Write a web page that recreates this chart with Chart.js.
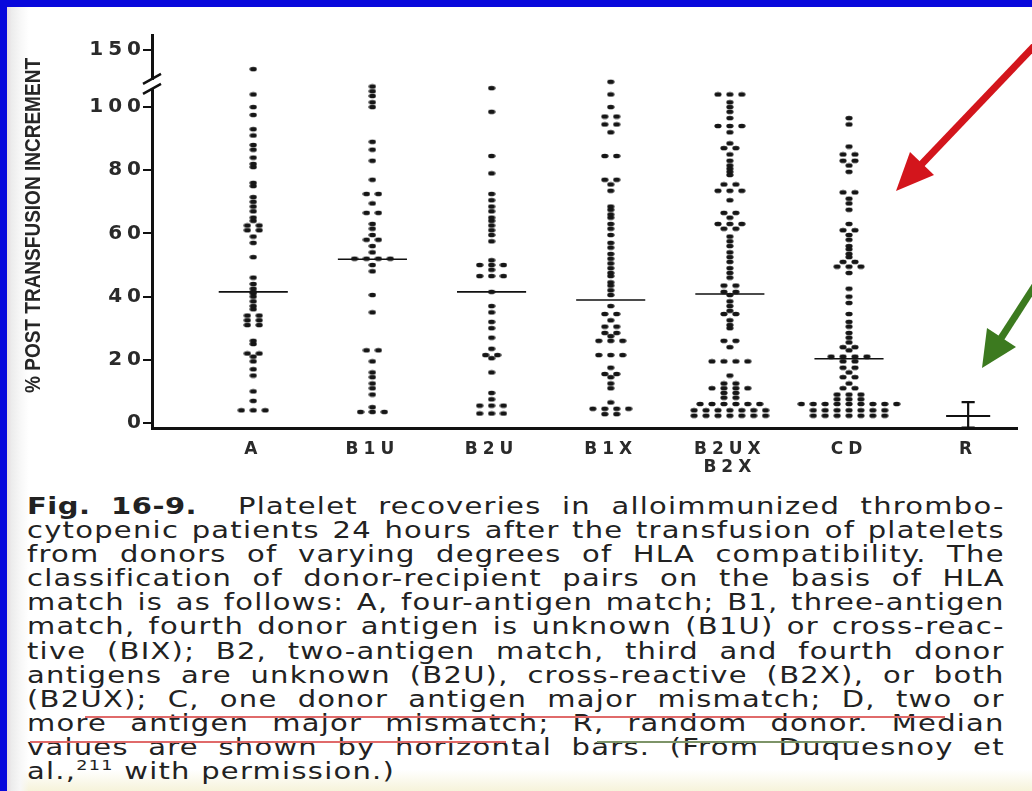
<!DOCTYPE html>
<html lang="en">
<head>
<meta charset="UTF-8">
<title>Fig. 16-9 Platelet recoveries</title>
<script src="https://cdn.jsdelivr.net/npm/chart.js@4/dist/chart.umd.min.js"></script>
<style>
  body { margin: 0; width: 1032px; height: 791px; position: relative; overflow: hidden; background: #fff; }
  .blue-top { position: absolute; left: 0; top: 0; width: 1032px; height: 7px; background: #0808dc; z-index: 5; }
  .blue-left { position: absolute; left: 0; top: 0; width: 7px; height: 791px; background: #0808dc; z-index: 5; }
  .edge { position: absolute; left: 7px; top: 7px; width: 22px; height: 784px; background: linear-gradient(to right, #e6d9df, #ececec 20%, #f7f7f7 60%, rgba(255,255,255,0)); z-index: 1; }
  .cream { position: absolute; left: 0; top: 770px; width: 1032px; height: 21px; background: linear-gradient(to bottom, rgba(255,255,255,0), #f6f3da); }
  #c { position: absolute; left: 0; top: 0; z-index: 2; }
  #arrows { position: absolute; left: 0; top: 0; z-index: 3; }
  /* printed caption is a wide geometric face: stretch horizontally to the column width */
  #caption { position: absolute; left: 27px; top: 494px; width: 776px; z-index: 2;
    transform: scaleX(1.26); transform-origin: 0 0;
    font-family: "DejaVu Sans", sans-serif; font-size: 23px; line-height: 24.1px; color: #222; letter-spacing: 1px; }
  #caption .ln { display: block; text-align: justify; text-align-last: justify; }
  #caption .last { text-align-last: left; }
  #caption b { font-weight: bold; letter-spacing: 0.4px; }
  #caption sup { font-size: 14px; line-height: 0; vertical-align: 9px; }
  .uline { position: absolute; height: 2px; z-index: 3; }
</style>
</head>
<body>
<div class="blue-top"></div>
<div class="blue-left"></div>
<div class="edge"></div>
<div class="cream"></div>

<canvas id="c" width="1032" height="490"></canvas>

<svg id="arrows" width="1032" height="490">
  <line x1="1040" y1="40" x2="916" y2="170" stroke="#d3151c" stroke-width="7"/>
  <polygon points="896,191 934,175 910,152" fill="#d3151c"/>
  <line x1="1045" y1="270" x2="996" y2="346" stroke="#3c7a1f" stroke-width="7"/>
  <polygon points="982,368 1016,347 987,328" fill="#3c7a1f"/>
</svg>

<div id="caption">
  <span class="ln"><b>Fig. 16-9.</b>&nbsp; Platelet recoveries in alloimmunized thrombo-</span>
  <span class="ln">cytopenic patients 24 hours after the transfusion of platelets</span>
  <span class="ln">from donors of varying degrees of HLA compatibility. The</span>
  <span class="ln">classification of donor-recipient pairs on the basis of HLA</span>
  <span class="ln">match is as follows: A, four-antigen match; B1, three-antigen</span>
  <span class="ln">match, fourth donor antigen is unknown (B1U) or cross-reac-</span>
  <span class="ln">tive (BIX); B2, two-antigen match, third and fourth donor</span>
  <span class="ln">antigens are unknown (B2U), cross-reactive (B2X), or both</span>
  <span class="ln">(B2UX); C, one donor antigen major mismatch; D, two or</span>
  <span class="ln">more antigen major mismatch; R, random donor. Median</span>
  <span class="ln">values are shown by horizontal bars. (From Duquesnoy et</span>
  <span class="ln last">al.,<sup>211</sup> with permission.)</span>
</div>
<div class="uline" style="left:85px; top:716px; width:860px; background:#e06a6a;"></div>
<div class="uline" style="left:30px; top:741px; width:476px; background:#e06a6a;"></div>
<div class="uline" style="left:597px; top:741px; width:262px; background:#7d9468;"></div>

<script>
// categories on the x axis
const categories = ['A', 'B1U', 'B2U', 'B1X', ['B2UX', 'B2X'], 'CD', 'R'];

// % post transfusion increment, one value per patient
const valsA = [112, 104, 100, 97.5, 93, 91, 88, 86.5, 84, 82, 81, 76, 75, 71.5, 70, 68.5, 67, 65, 64,
  62.5, 62.5, 61, 61, 59, 57, 52.5, 46, 44, 42.5, 41.5, 41, 40, 38.5, 37, 36, 34, 34, 32.5, 32.5, 31, 31,
  26, 25, 22, 22, 21, 19.5, 17, 15, 10, 7, 4, 4, 4];
const valsB1U = [106.5, 105, 103.5, 101.5, 100, 89, 86.5, 83, 77, 72.5, 72.5, 69.5, 66.5, 66.5, 63, 61.5,
  59.5, 58, 58, 56, 54, 52, 52, 52, 52, 50, 48, 40.5, 35, 23, 23, 19.5, 16, 14.5, 12.5, 11, 9, 5,
  3.5, 3.5, 3.5];
const valsB2U = [106, 98.5, 84.5, 79, 72.5, 70.5, 68.5, 67, 65, 64, 62.5, 61, 59.5, 57.5, 51.5, 50, 50, 50,
  48.5, 46.5, 46.5, 46.5, 41.5, 37, 35, 32, 30, 27, 23.5, 21.5, 21.5, 20.5, 16, 9.5, 7.5, 5.5, 5.5, 5.5,
  3, 3, 3];
const valsB1X = [108, 104, 100, 97, 97, 94.5, 94.5, 92, 84.5, 84.5, 77, 77, 75.5, 73.5, 68.5, 67.5, 66, 65,
  63, 61.5, 59.5, 57, 55.5, 53.5, 52, 50.5, 49, 47.5, 46.5, 44.5, 43.5, 42, 40.5, 37, 34.5, 34.5, 32.5,
  30.5, 30.5, 28.5, 28.5, 27.5, 26, 26, 26, 21.5, 21.5, 21.5, 17.5, 15.5, 15.5, 14.5, 12.5, 11, 6.5,
  4.5, 4.5, 4.5, 4.5, 2.8, 2.8];
const valsB2UX = [104, 104, 104, 101.5, 100, 98.5, 96.5, 94, 94, 94, 92, 88.5, 87, 87, 85, 83, 81.5, 80.5,
  79.5, 78.5, 75.5, 75.5, 73.5, 73.5, 73.5, 70.5, 66.5, 66.5, 65, 63, 63, 63, 61.5, 61.5, 59, 57.5, 56,
  54, 52.5, 51, 49, 47.5, 46, 43.5, 43.5, 41.5, 41.5, 40.5, 38.5, 37, 35.5, 34.5, 34.5, 32.5, 31, 30,
  26, 26, 24, 19.5, 19.5, 19.5, 19.5, 15, 12.5, 12.5, 11, 11, 11, 11, 9.5, 9.5, 8, 8,
  6, 6, 6, 6, 6, 6, 4, 4, 4, 4, 4, 4, 4, 2.3, 2.3, 2.3, 2.3, 2.3, 2.3, 2.3];
const valsCD = [96.5, 94.5, 87.5, 85, 85, 83, 83, 81.5, 79.5, 73, 73, 71, 69.5, 67.5, 63, 61, 61, 59.5, 58,
  56, 55, 53.5, 52.5, 51, 51, 49.5, 49.5, 49.5, 47.5, 42.5, 40, 38, 34.5, 32, 30.5, 28.5, 27, 25.5,
  24, 24, 23, 21, 21, 21, 21, 19.5, 19.5, 17.5, 17.5, 16, 14.5, 14.5, 12.5, 11, 11, 9, 9, 9,
  7.5, 7.5, 7.5, 6, 6, 6, 6, 6, 6, 6, 6, 6, 4, 4, 4, 4, 4, 4, 4, 2.3, 2.3, 2.3, 2.3, 2.3, 2.3, 2.3];

// median of each group (horizontal bars)
const medians = [41.5, 51.8, 41.5, 38.9, 40.8, 20.3];

// random donor group: median with range
const rMedian = 2.2;
const rLow = -1.5;
const rHigh = 6.6;

// y axis (broken above 100)
const yTickValues = [0, 20, 40, 60, 80, 100, 118];
const yTickLabels = ['0', '20', '40', '60', '80', '100', '150'];
const yBreak = 107;
const yTitle = '% POST TRANSFUSION INCREMENT';

const groups = [valsA, valsB1U, valsB2U, valsB1X, valsB2UX, valsCD];

// spread equal values side by side, like the printed dot plot
const spacing = 0.1;
const dots = [];
groups.forEach((vals, ci) => {
  const counts = {};
  vals.forEach(v => { counts[v] = (counts[v] || 0) + 1; });
  Object.keys(counts).forEach(k => {
    const n = counts[k];
    for (let j = 0; j < n; j++) {
      dots.push({ x: ci + (j - (n - 1) / 2) * spacing, y: Number(k) });
    }
  });
});

const medianSegs = [];
medians.forEach((m, i) => {
  medianSegs.push({ x: i - 0.29, y: m }, { x: i + 0.29, y: m }, { x: i, y: null });
});

const rIdx = 6;
const rStem = [{ x: rIdx, y: rLow }, { x: rIdx, y: rHigh }];
const rCaps = [
  { x: rIdx - 0.055, y: rHigh }, { x: rIdx + 0.055, y: rHigh }, { x: rIdx, y: null },
  { x: rIdx - 0.055, y: rLow }, { x: rIdx + 0.055, y: rLow }
];
const rMid = [{ x: rIdx - 0.185, y: rMedian }, { x: rIdx + 0.185, y: rMedian }];

// little flattened dot, as printed
const dotImg = document.createElement('canvas');
dotImg.width = 8; dotImg.height = 6;
const dctx = dotImg.getContext('2d');
dctx.fillStyle = '#161616';
dctx.beginPath();
dctx.ellipse(4, 3, 3.6, 2.3, 0, 0, Math.PI * 2);
dctx.fill();

// wide lettering for the tick labels, axis break and condensed axis title
const printStyle = {
  id: 'printStyle',
  beforeDraw(chart) {
    chart.ctx.letterSpacing = '5px';
  },
  afterDraw(chart) {
    const ctx = chart.ctx;
    const y = chart.scales.y;
    const px = y.right;
    const py = y.getPixelForValue(yBreak);
    ctx.save();
    ctx.letterSpacing = '0px';
    ctx.fillStyle = '#fff';
    ctx.fillRect(px - 3, py - 5, 6, 9);
    ctx.strokeStyle = '#111';
    ctx.lineWidth = 2.5;
    ctx.beginPath();
    ctx.moveTo(px - 9, py - 1); ctx.lineTo(px + 9, py - 11);
    ctx.moveTo(px - 9, py + 9); ctx.lineTo(px + 9, py - 1);
    ctx.stroke();

    // axis title, squeezed to the printed length
    ctx.font = 'bold 22px "Liberation Sans", Arial, sans-serif';
    const w = ctx.measureText(yTitle).width;
    const top = 58, bottom = 393;
    ctx.translate(34, (top + bottom) / 2);
    ctx.rotate(-Math.PI / 2);
    ctx.scale((bottom - top) / w, 1);
    ctx.fillStyle = '#262626';
    ctx.textAlign = 'center';
    ctx.textBaseline = 'middle';
    ctx.fillText(yTitle, 0, 0);
    ctx.restore();
  }
};

const lineStyle = { type: 'scatter', showLine: true, pointRadius: 0, borderColor: '#111', spanGaps: false };

new Chart(document.getElementById('c'), {
  type: 'scatter',
  data: {
    datasets: [
      { data: dots, pointStyle: dotImg, pointRadius: 3 },
      Object.assign({ data: medianSegs, borderWidth: 1.6 }, lineStyle),
      Object.assign({ data: rStem, borderWidth: 2.2, clip: false }, lineStyle),
      Object.assign({ data: rCaps, borderWidth: 2.2, clip: false }, lineStyle),
      Object.assign({ data: rMid, borderWidth: 2 }, lineStyle)
    ]
  },
  options: {
    responsive: false,
    animation: false,
    devicePixelRatio: 1,
    layout: { padding: { top: 35, right: 15, left: 0, bottom: 0 } },
    plugins: { legend: { display: false }, tooltip: { enabled: false } },
    scales: {
      x: {
        type: 'linear',
        min: -0.85,
        max: 6.41,
        afterBuildTicks: ax => { ax.ticks = categories.map((c, i) => ({ value: i })); },
        afterFit: s => { s.height = 62; },
        ticks: {
          callback: (v, i) => categories[i],
          font: { family: 'DejaVu Sans', size: 17, weight: 'bold', lineHeight: 1.05 },
          color: '#2a2a2a',
          padding: 5,
          maxRotation: 0,
          autoSkip: false
        },
        grid: { display: false },
        border: { display: true, color: '#111', width: 3 }
      },
      y: {
        min: -1.6,
        max: 122.8,
        afterBuildTicks: ax => { ax.ticks = yTickValues.map(v => ({ value: v })); },
        afterFit: s => { s.width = 152; },
        ticks: {
          callback: (v, i) => yTickLabels[i],
          font: { family: 'DejaVu Sans', size: 20, weight: 'bold' },
          color: '#2a2a2a',
          padding: -3
        },
        grid: { drawOnChartArea: false, drawTicks: true, tickLength: 9, color: '#111', lineWidth: 2 },
        border: { display: true, color: '#111', width: 3 }
      }
    }
  },
  plugins: [printStyle]
});
</script>
</body>
</html>
